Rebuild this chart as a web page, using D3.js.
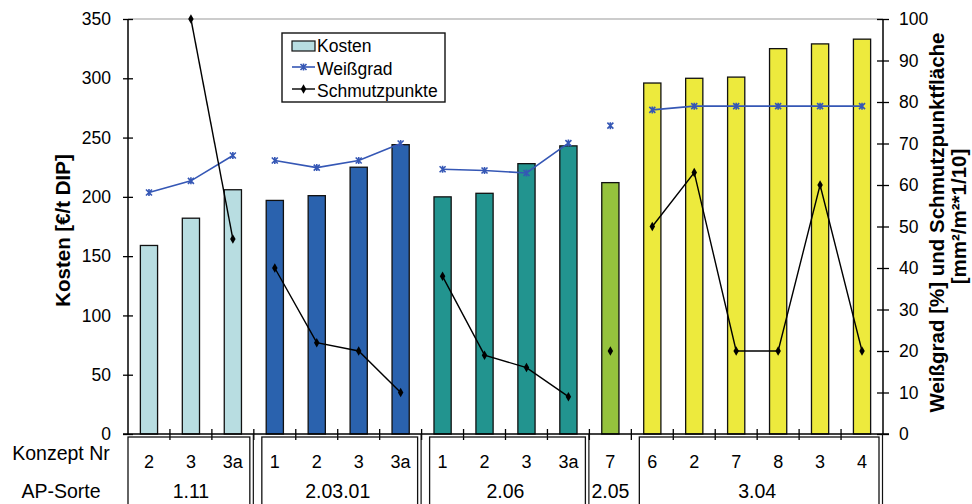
<!DOCTYPE html>
<html><head><meta charset="utf-8">
<script src="https://cdn.jsdelivr.net/npm/d3@7"></script>
<style>body{margin:0;background:#fff}svg{display:block;font-family:"Liberation Sans",Arial,sans-serif}</style>
</head><body><svg id="c" width="972" height="504"></svg>
<script>
const konzept = ["2","3","3a","1","2","3","3a","1","2","3","3a","7","6","2","7","8","3","4"];
const groups = ["1.11","2.03.01","2.06","2.05","3.04"];
const groupSizes = [3,4,4,1,6];
const groupColors = ["#B8DDE1","#2A62AE","#22948F","#95C23D","#EDEA3D"];
const groupBoxed = [true,true,true,false,true];
const kosten = [159,182,206,197,201,225,244,200,203,228,243,212,296,300,301,325,329,333];
const weissgrad = [58.2,61,67.1,65.9,64.2,65.9,70,63.8,63.5,62.9,70.1,74.3,78.1,79,79,79,79,79];
const schmutz = [null,100,47,40,22,20,10,38,19,16,9,20,50,63,20,20,60,20];
const leftTicks = [0,50,100,150,200,250,300,350];
const rightTicks = [0,10,20,30,40,50,60,70,80,90,100];

const svg = d3.select("#c");
const L = 128, R = 883, T = 19, B = 434;
const idx = d3.range(konzept.length);
const x = d3.scaleBand().domain(idx).range([L, R]).padding(0);
const yL = d3.scaleLinear().domain([0, 350]).range([B, T]);
const yR = d3.scaleLinear().domain([0, 100]).range([B, T]);
const bw = x.bandwidth() * 0.41;
const cx = i => x(i) + x.bandwidth() / 2;

const groupOf = [];
groupSizes.forEach((n, g) => { for (let k = 0; k < n; k++) groupOf.push(g); });
const starts = groupSizes.map((n, g) => d3.sum(groupSizes.slice(0, g)));

svg.append("line").attr("x1", L).attr("x2", R).attr("y1", T).attr("y2", T).attr("stroke", "#9a9a9a").attr("stroke-width", 1.2);

svg.append("g").selectAll("rect").data(idx).join("rect")
  .attr("x", i => cx(i) - bw / 2).attr("width", bw)
  .attr("y", i => yL(kosten[i])).attr("height", i => B - yL(kosten[i]))
  .attr("fill", i => groupColors[groupOf[i]]).attr("stroke", "#111").attr("stroke-width", 1.3);

const axL = svg.append("g").attr("transform", `translate(${L},0)`)
  .call(d3.axisLeft(yL).tickValues(leftTicks).tickSize(5).tickPadding(12));
axL.selectAll(".tick line").attr("x2", 5).attr("x1", -5);
const axR = svg.append("g").attr("transform", `translate(${R},0)`)
  .call(d3.axisRight(yR).tickValues(rightTicks).tickSize(6).tickPadding(10));
axR.selectAll(".tick line").attr("x1", -6);
[axL, axR].forEach(a => {
  a.select(".domain").attr("stroke", "#000").attr("stroke-width", 1.5).attr("d", `M0,${T}V${B}`);
  a.selectAll(".tick line").attr("stroke", "#000").attr("stroke-width", 1.3);
  a.selectAll("text").attr("font-size", 17.5).attr("fill", "#000").attr("font-family", "Liberation Sans, Arial, sans-serif");
});

svg.append("line").attr("x1", L - 5).attr("x2", R + 6).attr("y1", B).attr("y2", B).attr("stroke", "#000").attr("stroke-width", 1.5);
svg.append("g").selectAll("line").data(d3.range(1, konzept.length)).join("line")
  .attr("x1", i => x(i)).attr("x2", i => x(i)).attr("y1", B - 5).attr("y2", B + 6)
  .attr("stroke", "#000").attr("stroke-width", 1.3);

const gW = svg.append("g"), gS = svg.append("g");
const line = (arr, sc) => d3.line().defined(i => arr[i] != null).x(cx).y(i => sc(arr[i]));
groups.forEach((g, gi) => {
  const ids = d3.range(starts[gi], starts[gi] + groupSizes[gi]);
  gW.append("path").attr("d", line(weissgrad, yR)(ids)).attr("fill", "none").attr("stroke", "#3557B5").attr("stroke-width", 1.6);
  gS.append("path").attr("d", line(schmutz, yR)(ids)).attr("fill", "none").attr("stroke", "#000").attr("stroke-width", 1.4);
});
const star = (sel, px, py) => {
  const s = 3;
  sel.append("path").attr("d", `M${px-s},${py-s}L${px+s},${py+s}M${px-s},${py+s}L${px+s},${py-s}M${px},${py-s-0.5}V${py+s+0.5}`)
    .attr("stroke", "#3557B5").attr("stroke-width", 1.6).attr("fill", "none");
};
idx.forEach(i => star(gW, cx(i), yR(weissgrad[i])));
gS.selectAll("path.m").data(idx.filter(i => schmutz[i] != null)).join("path").attr("class", "m")
  .attr("d", d3.symbol(d3.symbolDiamond, 26))
  .attr("transform", i => `translate(${cx(i)},${yR(schmutz[i])})`).attr("fill", "#000");

svg.append("text").attr("transform", `translate(70,${(T + B) / 2 + 4}) rotate(-90)`)
  .attr("text-anchor", "middle").attr("font-weight", "bold").attr("font-size", 20.5).text("Kosten [€/t DIP]");
svg.append("text").attr("transform", `translate(944,${(T + B) / 2 - 4}) rotate(-90)`)
  .attr("text-anchor", "middle").attr("font-weight", "bold").attr("font-size", 20.5).text("Weißgrad [%] und Schmutzpunktfläche");
svg.append("text").attr("transform", `translate(966,${(T + B) / 2 - 10}) rotate(-90)`)
  .attr("text-anchor", "middle").attr("font-weight", "bold").attr("font-size", 20.5).text("[mm²/m²*1/10]");

const lg = svg.append("g").attr("transform", "translate(282,33)");
lg.append("rect").attr("width", 163).attr("height", 69).attr("fill", "#fff").attr("stroke", "#111").attr("stroke-width", 1.4);
lg.append("rect").attr("x", 10).attr("y", 8).attr("width", 23).attr("height", 10).attr("fill", groupColors[0]).attr("stroke", "#111").attr("stroke-width", 1.2);
lg.append("line").attr("x1", 10).attr("x2", 33).attr("y1", 34).attr("y2", 34).attr("stroke", "#3557B5").attr("stroke-width", 1.6);
star(lg, 21.5, 34);
lg.append("line").attr("x1", 10).attr("x2", 33).attr("y1", 56).attr("y2", 56).attr("stroke", "#000").attr("stroke-width", 1.4);
lg.append("path").attr("d", d3.symbol(d3.symbolDiamond, 26)).attr("transform", "translate(21.5,56)");
["Kosten", "Weißgrad", "Schmutzpunkte"].forEach((t, k) => {
  lg.append("text").attr("x", 35).attr("y", 19 + k * 22.5).attr("font-size", 17.5).text(t);
});

const tb = svg.append("g");
groups.forEach((g, gi) => {
  const x0 = x(starts[gi]), x1 = x(starts[gi] + groupSizes[gi] - 1) + x.bandwidth();
  if (groupBoxed[gi]) {
    const l = gi === 0 ? x0 : x0 + 8;
    tb.append("rect").attr("x", l).attr("y", B + 3).attr("width", x1 - 4 - l).attr("height", 80)
      .attr("fill", "none").attr("stroke", "#111").attr("stroke-width", 1.3);
    tb.append("line").attr("x1", x1 - 0.5).attr("x2", x1 - 0.5).attr("y1", B).attr("y2", 504).attr("stroke", "#111").attr("stroke-width", 1.2);
  }
  tb.append("text").attr("x", (x0 + x1) / 2).attr("y", 498).attr("text-anchor", "middle").attr("font-size", 19.5).text(g);
});
tb.selectAll("text.k").data(idx).join("text").attr("class", "k")
  .attr("x", cx).attr("y", 468).attr("text-anchor", "middle").attr("font-size", 18).text(i => konzept[i]);
tb.append("text").attr("x", 61).attr("y", 460).attr("text-anchor", "middle").attr("font-size", 19.5).text("Konzept Nr");
tb.append("text").attr("x", 61).attr("y", 498).attr("text-anchor", "middle").attr("font-size", 19.5).text("AP-Sorte");
</script></body></html>
